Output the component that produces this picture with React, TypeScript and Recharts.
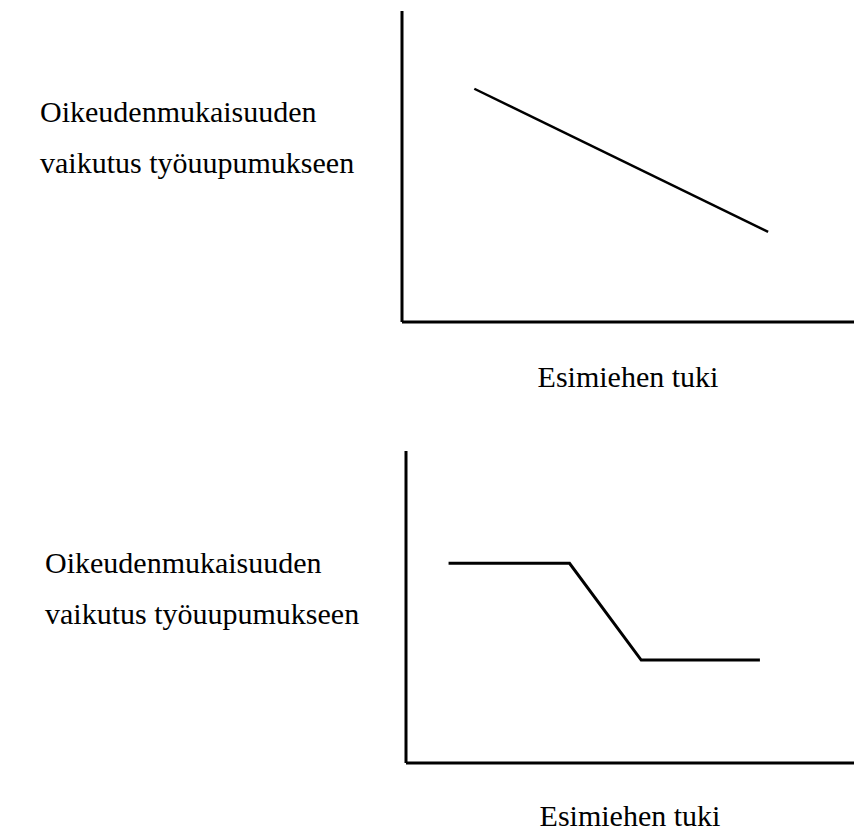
import { LineChart, Line, XAxis, YAxis } from 'recharts';

// x-axis: supervisor support (0..100), y-axis: effect of fairness on burnout (0..100)
const topSupport = [16, 81];
const topEffect = [75, 29];

const bottomSupport = [9.5, 36.5, 52.5, 79];
const bottomEffect = [64, 64, 33, 33];

const yLabelLines = ['Oikeudenmukaisuuden', 'vaikutus työuupumukseen'];
const xLabelText = 'Esimiehen tuki';

const topData = topSupport.map((x, i) => ({ x, y: topEffect[i] }));
const bottomData = bottomSupport.map((x, i) => ({ x, y: bottomEffect[i] }));

const font = 'Liberation Serif, Times New Roman, serif';

function YLabel({ left, first, second }: { left: number; first: number; second: number }) {
  return (
    <text fontFamily={font} fontSize={30} fill="#000">
      <tspan x={left} y={first}>{yLabelLines[0]}</tspan>
      <tspan x={left} y={second}>{yLabelLines[1]}</tspan>
    </text>
  );
}

function XLabel({ viewBox, baseline }: any) {
  const cx = viewBox.x + viewBox.width / 2;
  return (
    <text x={cx} y={baseline} textAnchor="middle" fontFamily={font} fontSize={30} fill="#000">
      {xLabelText}
    </text>
  );
}

const axisLine = { stroke: '#000', strokeWidth: 3 };

export default function App() {
  return (
    <div style={{ position: 'absolute', left: 0, top: 0, width: 854, height: 831, background: '#fff' }}>
      <div style={{ position: 'absolute', left: 0, top: 0 }}>
        <LineChart width={854} height={415} data={topData} margin={{ top: 11, right: 0, bottom: 0, left: 0 }}>
          <XAxis
            dataKey="x"
            type="number"
            domain={[0, 100]}
            tick={false}
            tickLine={false}
            axisLine={axisLine}
            height={93}
            label={{ content: (p: any) => <XLabel viewBox={p.viewBox} baseline={387} /> }}
          />
          <YAxis
            type="number"
            domain={[0, 100]}
            tick={false}
            tickLine={false}
            axisLine={axisLine}
            width={402}
            label={{ content: () => <YLabel left={40} first={122} second={173} /> }}
          />
          <Line type="linear" dataKey="y" stroke="#000" strokeWidth={2.5} dot={false} isAnimationActive={false} />
        </LineChart>
      </div>
      <div style={{ position: 'absolute', left: 0, top: 440 }}>
        <LineChart width={854} height={391} data={bottomData} margin={{ top: 11, right: 0, bottom: 0, left: 0 }}>
          <XAxis
            dataKey="x"
            type="number"
            domain={[0, 100]}
            tick={false}
            tickLine={false}
            axisLine={axisLine}
            height={68}
            label={{ content: (p: any) => <XLabel viewBox={p.viewBox} baseline={386} /> }}
          />
          <YAxis
            type="number"
            domain={[0, 100]}
            tick={false}
            tickLine={false}
            axisLine={axisLine}
            width={406}
            label={{ content: () => <YLabel left={45} first={133} second={184} /> }}
          />
          <Line type="linear" dataKey="y" stroke="#000" strokeWidth={3} dot={false} isAnimationActive={false} />
        </LineChart>
      </div>
    </div>
  );
}
